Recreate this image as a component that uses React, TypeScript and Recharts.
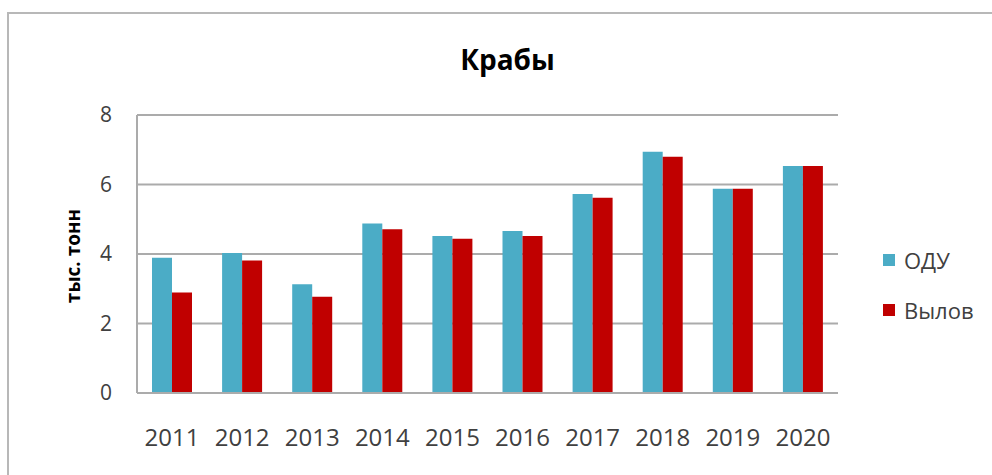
import React from 'react';
import { BarChart, Bar, XAxis, YAxis, CartesianGrid, Legend } from 'recharts';

const years = ['2011', '2012', '2013', '2014', '2015', '2016', '2017', '2018', '2019', '2020'];
const tac = [3.89, 4.03, 3.13, 4.88, 4.52, 4.66, 5.73, 6.94, 5.88, 6.53];
const catch_ = [2.89, 3.81, 2.77, 4.71, 4.44, 4.52, 5.62, 6.8, 5.88, 6.53];
const yTicks = [0, 2, 4, 6, 8];

const data = years.map((year, i) => ({ year, odu: tac[i], vylov: catch_[i] }));

const FONT = '"Open Sans", "DejaVu Sans", sans-serif';

function LegendBox({ payload }: any) {
  return (
    <div style={{ fontFamily: FONT }}>
      {(payload || []).map((entry: any) => (
        <div key={entry.value} style={{ display: 'flex', alignItems: 'center', height: 50, fontSize: 22, color: '#404040' }}>
          <span style={{ display: 'inline-block', width: 12, height: 12, background: entry.color, marginRight: 9 }} />
          {entry.value}
        </div>
      ))}
    </div>
  );
}

export default function App() {
  return (
    <div style={{ position: 'absolute', left: 0, top: 0, width: 992, height: 475, background: '#fff', overflow: 'hidden' }}>
      <div style={{ position: 'absolute', left: 7, top: 12, right: -10, bottom: -10, borderLeft: '2px solid #b8b8b8', borderTop: '2px solid #b8b8b8' }} />
      <div style={{ position: 'absolute', left: 0, width: 1015, top: 40, textAlign: 'center', fontFamily: FONT, fontWeight: 700, fontSize: 28, color: '#000' }}>
        Крабы
      </div>
      <div style={{ position: 'absolute', left: 0, top: 0 }}>
        <BarChart width={992} height={475} data={data} margin={{ top: 115, right: 154, bottom: 42, left: 0 }} barGap={0} barSize={20}>
          <CartesianGrid vertical={false} stroke="#ababab" strokeWidth={2} />
          <XAxis
            dataKey="year"
            height={40}
            tickLine={false}
            tickSize={0}
            tickMargin={36}
            axisLine={{ stroke: '#ababab', strokeWidth: 2 }}
            tick={{ fill: '#404040', fontSize: 24, fontFamily: FONT }}
            interval={0}
          />
          <YAxis
            width={137}
            domain={[0, 8]}
            ticks={yTicks}
            tickLine={false}
            tickSize={0}
            tickMargin={25}
            axisLine={{ stroke: '#ababab', strokeWidth: 2 }}
            tick={{ fill: '#404040', fontSize: 21, fontFamily: FONT }}
            label={{
              content: () => (
                <text x={80} y={256} transform="rotate(-90 80 256)" textAnchor="middle" fontFamily={FONT} fontWeight={700} fontSize={19} fill="#000">
                  тыс. тонн
                </text>
              ),
            }}
          />
          <Legend
            layout="horizontal"
            align="center"
            verticalAlign="middle"
            itemSorter="dataKey"
            wrapperStyle={{ left: 883, top: 235, width: 109 }}
            content={<LegendBox />}
          />
          <Bar dataKey="odu" name="ОДУ" fill="#4BACC6" isAnimationActive={false} />
          <Bar dataKey="vylov" name="Вылов" fill="#C00000" isAnimationActive={false} />
        </BarChart>
      </div>
    </div>
  );
}
